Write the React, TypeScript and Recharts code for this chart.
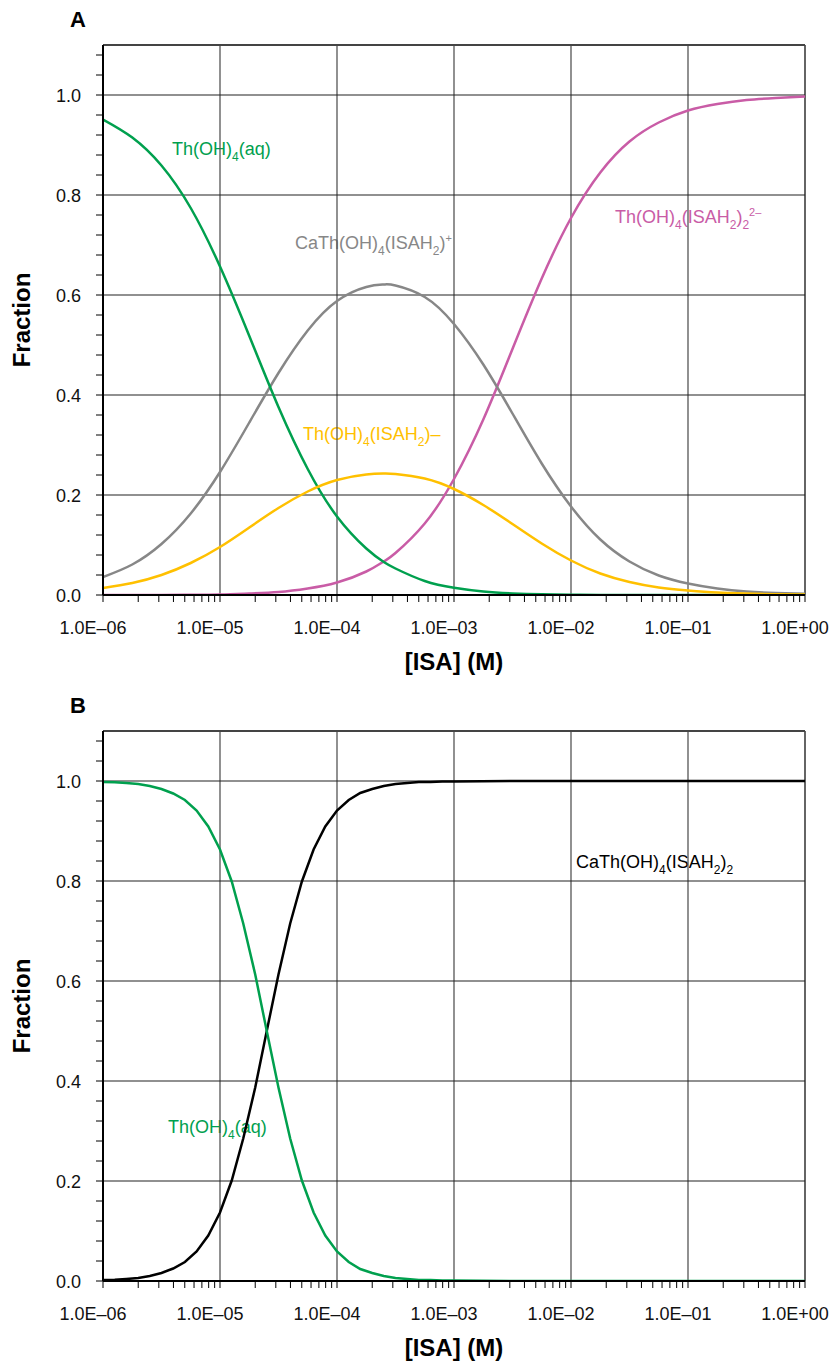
import React from 'react';
import { LineChart, Line, XAxis, YAxis, ReferenceLine } from 'recharts';

const FONT = '"Liberation Sans", Arial, Helvetica, sans-serif';

// ---------- Panel A data ----------
const isaA = [1e-6, 1.78e-6, 3.16e-6, 5.62e-6, 1e-5, 1.78e-5, 3.16e-5, 5.62e-5, 1e-4, 1.78e-4, 2.51e-4, 3.16e-4, 5.62e-4, 1e-3, 1.78e-3, 3.16e-3, 5.62e-3, 1e-2, 1.78e-2, 3.16e-2, 5.62e-2, 1e-1, 1.78e-1, 3.16e-1, 5.62e-1, 1];
const thAqA = [0.951, 0.915, 0.859, 0.774, 0.657, 0.518, 0.376, 0.252, 0.157, 0.093, 0.066, 0.053, 0.028, 0.0145, 0.0069, 0.0031, 0.0013, 0.0005, 0.0002, 0.0001, 0, 0, 0, 0, 0, 0];
const thIsaA = [0.014, 0.024, 0.04, 0.064, 0.096, 0.135, 0.174, 0.207, 0.23, 0.241, 0.243, 0.242, 0.233, 0.212, 0.18, 0.142, 0.103, 0.069, 0.043, 0.026, 0.015, 0.009, 0.005, 0.003, 0.0016, 0.0009];
const caThIsaA = [0.036, 0.061, 0.102, 0.163, 0.246, 0.345, 0.444, 0.529, 0.588, 0.616, 0.621, 0.619, 0.596, 0.542, 0.461, 0.363, 0.263, 0.177, 0.111, 0.067, 0.039, 0.023, 0.013, 0.007, 0.004, 0.0023];
const thIsa2A = [0, 0.0001, 0.0001, 0.0004, 0.001, 0.003, 0.006, 0.013, 0.025, 0.047, 0.067, 0.084, 0.143, 0.232, 0.351, 0.492, 0.633, 0.754, 0.845, 0.907, 0.945, 0.969, 0.982, 0.99, 0.994, 0.997];

// ---------- Panel B data ----------
const isaB = [1e-6, 1.26e-6, 1.58e-6, 2e-6, 2.51e-6, 3.16e-6, 3.98e-6, 5.01e-6, 6.31e-6, 7.94e-6, 1e-5, 1.26e-5, 1.58e-5, 2e-5, 2.51e-5, 3.16e-5, 3.98e-5, 5.01e-5, 6.31e-5, 7.94e-5, 1e-4, 1.26e-4, 1.58e-4, 2e-4, 2.51e-4, 3.16e-4, 3.98e-4, 5.01e-4, 6.31e-4, 7.94e-4, 1e-3, 3.16e-3, 1e-2, 3.16e-2, 1e-1, 3.16e-1, 1];
const caThIsa2B = [0.002, 0.0025, 0.004, 0.006, 0.01, 0.016, 0.025, 0.038, 0.059, 0.091, 0.137, 0.201, 0.285, 0.387, 0.5, 0.613, 0.715, 0.799, 0.863, 0.909, 0.941, 0.962, 0.976, 0.984, 0.99, 0.994, 0.996, 0.998, 0.998, 0.999, 0.999, 1, 1, 1, 1, 1, 1];
const thAqB = [0.998, 0.9975, 0.996, 0.994, 0.99, 0.984, 0.975, 0.962, 0.941, 0.909, 0.863, 0.799, 0.715, 0.613, 0.5, 0.387, 0.285, 0.201, 0.137, 0.091, 0.059, 0.038, 0.024, 0.016, 0.01, 0.006, 0.004, 0.002, 0.002, 0.001, 0.001, 0, 0, 0, 0, 0, 0];

// ---------- Axis ticks ----------
const xDecades = [1e-6, 1e-5, 1e-4, 1e-3, 1e-2, 1e-1, 1];
const xTickLabels = ['1.0E–06', '1.0E–05', '1.0E–04', '1.0E–03', '1.0E–02', '1.0E–01', '1.0E+00'];
const xMultipliers = [1, 2, 3, 4, 5, 6, 7, 8, 9];
const yMajor = [0, 0.2, 0.4, 0.6, 0.8, 1.0];
const yTickLabels = ['0.0', '0.2', '0.4', '0.6', '0.8', '1.0'];
const yAllTicks = [0, 0.04, 0.08, 0.12, 0.16, 0.2, 0.24, 0.28, 0.32, 0.36, 0.4, 0.44, 0.48, 0.52, 0.56, 0.6, 0.64, 0.68, 0.72, 0.76, 0.8, 0.84, 0.88, 0.92, 0.96, 1.0, 1.04, 1.08];

const xAllTicks = [
  ...xDecades.slice(0, -1).flatMap((d) => xMultipliers.map((m) => m * d)),
  1,
];

const rowsA = isaA.map((isa, i) => ({
  isa,
  thAq: thAqA[i],
  thIsa: thIsaA[i],
  caThIsa: caThIsaA[i],
  thIsa2: thIsa2A[i],
}));

const rowsB = isaB.map((isa, i) => ({
  isa,
  caThIsa2: caThIsa2B[i],
  thAq: thAqB[i],
}));

const GREEN = '#00a04e';
const PINK = '#c95ca6';
const GRAY = '#878787';
const YELLOW = '#ffc000';

const XTick = (props: any) => {
  const { x, y, payload } = props;
  const v = payload.value;
  const idx = xDecades.findIndex((d) => Math.abs(Math.log10(d) - Math.log10(v)) < 1e-6);
  if (idx < 0) return <g />;
  return (
    <text x={x - 10} y={y + 30} textAnchor="middle" fontSize={18} fontFamily={FONT} fill="#111">
      {xTickLabels[idx]}
    </text>
  );
};

const YTick = (props: any) => {
  const { x, y, payload } = props;
  const v = payload.value;
  const idx = yMajor.findIndex((m) => Math.abs(m - v) < 1e-6);
  if (idx < 0) return <g />;
  return (
    <text x={x - 13} y={y + 6.5} textAnchor="end" fontSize={18} fontFamily={FONT} fill="#111">
      {yTickLabels[idx]}
    </text>
  );
};

type Seg = [string, '' | 'sub' | 'sup'];

// Renders chemical formula with sub/superscripts using relative dy shifts.
const Formula = ({ x, y, fill, segs }: { x: number; y: number; fill: string; segs: Seg[] }) => {
  let level = 0;
  const parts = segs.map(([t, kind], i) => {
    const target = kind === 'sub' ? 6 : kind === 'sup' ? -7 : 0;
    const dy = target - level;
    level = target;
    return (
      <tspan key={i} dy={dy} fontSize={kind ? (kind === 'sub' ? 12 : 11) : 18}>
        {t}
      </tspan>
    );
  });
  return (
    <text x={x} y={y} fontFamily={FONT} fontSize={18} fill={fill}>
      {parts}
    </text>
  );
};

const commonAxes = (height: number) => [
  <XAxis
    key="x"
    dataKey="isa"
    type="number"
    scale="log"
    domain={[1e-6, 1]}
    allowDataOverflow
    ticks={xAllTicks}
    interval={0}
    tick={<XTick />}
    tickSize={7}
    tickLine={{ stroke: '#000', strokeWidth: 1 }}
    axisLine={{ stroke: '#000', strokeWidth: 2 }}
    height={height}
  />,
  <YAxis
    key="y"
    type="number"
    domain={[0, 1.1]}
    allowDataOverflow
    ticks={yAllTicks}
    interval={0}
    tick={<YTick />}
    tickSize={7}
    tickLine={{ stroke: '#000', strokeWidth: 1 }}
    axisLine={{ stroke: '#000', strokeWidth: 2 }}
    width={103}
  />,
];

const gridLines = () => [
  ...xDecades.slice(1).map((d) => (
    <ReferenceLine key={'gx' + d} x={d} stroke={d === 1 ? '#111' : '#555'} strokeWidth={1.3} ifOverflow="visible" />
  )),
  ...[0.2, 0.4, 0.6, 0.8, 1.0, 1.1].map((v) => (
    <ReferenceLine key={'gy' + v} y={v} stroke={v === 1.1 ? '#444' : '#222'} strokeWidth={v === 1.1 ? 1.8 : 1.2} ifOverflow="visible" />
  )),
];

const App = () => (
  <div style={{ position: 'absolute', left: 0, top: 0, width: 831, height: 1363, background: '#fff', overflow: 'hidden' }}>
    <LineChart width={831} height={686} data={rowsA} margin={{ top: 45, right: 26, bottom: 0, left: 0 }}>
      {commonAxes(91)}
      {gridLines()}
      <Line dataKey="thIsa2" stroke={PINK} strokeWidth={2.5} dot={false} type="natural" isAnimationActive={false} />
      <Line dataKey="caThIsa" stroke={GRAY} strokeWidth={2.5} dot={false} type="natural" isAnimationActive={false} />
      <Line dataKey="thAq" stroke={GREEN} strokeWidth={2.5} dot={false} type="natural" isAnimationActive={false} />
      <Line dataKey="thIsa" stroke={YELLOW} strokeWidth={2.5} dot={false} type="natural" isAnimationActive={false} />
      <text x={70} y={27} fontFamily={FONT} fontSize={22} fontWeight="bold" fill="#000">A</text>
      <text x={30} y={320} transform="rotate(-90, 30, 320)" textAnchor="middle" fontFamily={FONT} fontSize={24} fontWeight="bold" fill="#000">Fraction</text>
      <text x={454} y={670} textAnchor="middle" fontFamily={FONT} fontSize={24} fontWeight="bold" fill="#000">[ISA] (M)</text>
      <Formula x={172} y={155} fill={GREEN} segs={[['Th(OH)', ''], ['4', 'sub'], ['(aq)', '']]} />
      <Formula x={295} y={249} fill={GRAY} segs={[['CaTh(OH)', ''], ['4', 'sub'], ['(ISAH', ''], ['2', 'sub'], [')', ''], ['+', 'sup']]} />
      <Formula x={615} y={223} fill={PINK} segs={[['Th(OH)', ''], ['4', 'sub'], ['(ISAH', ''], ['2', 'sub'], [')', ''], ['2', 'sub'], ['2–', 'sup']]} />
      <Formula x={303} y={440} fill={YELLOW} segs={[['Th(OH)', ''], ['4', 'sub'], ['(ISAH', ''], ['2', 'sub'], [')–', '']]} />
    </LineChart>
    <LineChart width={831} height={677} data={rowsB} margin={{ top: 45, right: 26, bottom: 0, left: 0 }}>
      {commonAxes(82)}
      {gridLines()}
      <Line dataKey="caThIsa2" stroke="#000" strokeWidth={2.5} dot={false} type="linear" isAnimationActive={false} />
      <Line dataKey="thAq" stroke={GREEN} strokeWidth={2.5} dot={false} type="linear" isAnimationActive={false} />
      <text x={70} y={27} fontFamily={FONT} fontSize={22} fontWeight="bold" fill="#000">B</text>
      <text x={30} y={320} transform="rotate(-90, 30, 320)" textAnchor="middle" fontFamily={FONT} fontSize={24} fontWeight="bold" fill="#000">Fraction</text>
      <text x={454} y={670} textAnchor="middle" fontFamily={FONT} fontSize={24} fontWeight="bold" fill="#000">[ISA] (M)</text>
      <Formula x={576} y={182} fill="#000" segs={[['CaTh(OH)', ''], ['4', 'sub'], ['(ISAH', ''], ['2', 'sub'], [')', ''], ['2', 'sub']]} />
      <Formula x={168} y={447} fill={GREEN} segs={[['Th(OH)', ''], ['4', 'sub'], ['(aq)', '']]} />
    </LineChart>
  </div>
);

export default App;
